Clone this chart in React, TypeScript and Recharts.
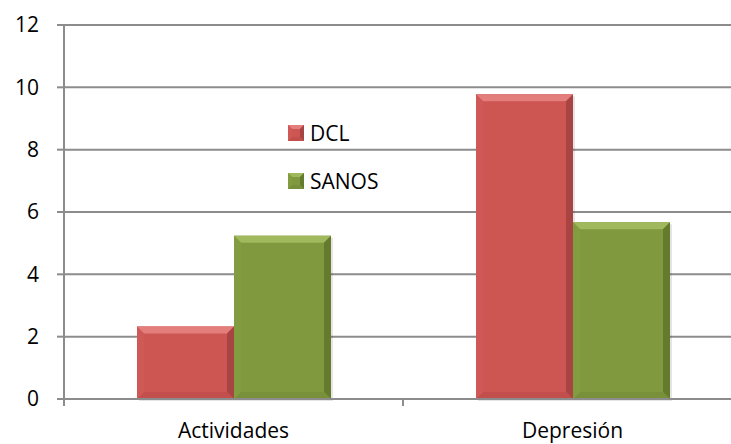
import { BarChart, Bar, XAxis, YAxis, CartesianGrid } from "recharts";

const categories = ["Actividades", "Depresión"];
const seriesNames = ["DCL", "SANOS"];
const dcl = [2.33, 9.78];
const sanos = [5.24, 5.67];
const yTicks = [0, 2, 4, 6, 8, 10, 12];

const data = categories.map((name, i) => ({ name, DCL: dcl[i], SANOS: sanos[i] }));

const FONT = "'Open Sans', sans-serif";
const GRID = "#8c8c8c";

const palette: Record<string, { main: string; top: string; right: string; bottom: string; left: string }> = {
  DCL: { main: "#cd5653", top: "#e47e7c", right: "#a84543", bottom: "#c34f4d", left: "#cf5956" },
  SANOS: { main: "#80993e", top: "#9fb95c", right: "#647b2d", bottom: "#78903a", left: "#829c40" },
};

const bevel = (x: number, y: number, w: number, h: number, c: typeof palette.DCL, b: number, shadow = true) => {
  const bb = Math.min(b, w / 2, h / 2);
  return (
    <g>
      {shadow && <rect x={x + 2} y={y + 2} width={w} height={h} fill="#000" fillOpacity={0.1} />}
      <rect x={x} y={y} width={w} height={h} fill={c.main} />
      <polygon points={`${x},${y} ${x + w},${y} ${x + w - bb},${y + bb} ${x + bb},${y + bb}`} fill={c.top} />
      <polygon points={`${x + w},${y} ${x + w},${y + h} ${x + w - bb},${y + h - bb} ${x + w - bb},${y + bb}`} fill={c.right} />
      <polygon points={`${x},${y + h} ${x + w},${y + h} ${x + w - bb},${y + h - bb} ${x + bb},${y + h - bb}`} fill={c.bottom} />
      <polygon points={`${x},${y} ${x + bb},${y + bb} ${x + bb},${y + h - bb} ${x},${y + h}`} fill={c.left} />
    </g>
  );
};

const BevelBar = (key: string) => (props: any) => {
  const { x, y, width, height } = props;
  if (!height || height <= 0) return <g />;
  return bevel(x, y, width, height, palette[key], 7);
};

const XTick = (props: any) => {
  const { x, y, payload, width, visibleTicksCount } = props;
  const off = payload.offset ?? width / visibleTicksCount / 2;
  const base = y - 7 - 17;
  return (
    <g>
      <line x1={x - off} x2={x - off} y1={base} y2={base + 7} stroke={GRID} strokeWidth={2} />
      <line x1={x + off} x2={x + off} y1={base} y2={base + 7} stroke={GRID} strokeWidth={2} />
      <text x={x} y={y} dy="0.71em" textAnchor="middle" fill="#000" fontSize={21} fontFamily={FONT}>
        {payload.value}
      </text>
    </g>
  );
};

const LegendBox = () => (
  <div style={{ position: "absolute", left: 288, top: 109, fontFamily: FONT, fontSize: 21, color: "#000" }}>
    {seriesNames.map((name) => (
      <div key={name} style={{ display: "flex", alignItems: "center", height: 48 }}>
        <svg width={16} height={16} style={{ marginRight: 6 }}>
          {bevel(0, 0, 16, 16, palette[name], 4, false)}
        </svg>
        <span>{name}</span>
      </div>
    ))}
  </div>
);

export default function App() {
  return (
    <div style={{ position: "absolute", left: 0, top: 0, width: 731, height: 444, overflow: "hidden", background: "#fff" }}>
      <BarChart
        width={742}
        height={444}
        data={data}
        margin={{ top: 25, right: 0, bottom: 0, left: 0 }}
        barGap={0}
        barCategoryGap={73}
      >
        <CartesianGrid vertical={false} stroke={GRID} strokeWidth={2} />
        <XAxis
          dataKey="name"
          height={45}
          axisLine={{ stroke: GRID, strokeWidth: 2 }}
          tickLine={false}
          tickSize={7}
          tickMargin={17}
          tick={<XTick />}
          interval={0}
        />
        <YAxis
          width={64}
          domain={[0, 12]}
          ticks={yTicks}
          axisLine={{ stroke: GRID, strokeWidth: 2 }}
          tickLine={{ stroke: GRID, strokeWidth: 2 }}
          tickSize={7}
          tickMargin={18}
          tick={{ fill: "#000", fontSize: 21, fontFamily: FONT }}
        />
        <Bar dataKey="DCL" isAnimationActive={false} shape={BevelBar("DCL")} />
        <Bar dataKey="SANOS" isAnimationActive={false} shape={BevelBar("SANOS")} />
      </BarChart>
      <LegendBox />
    </div>
  );
}
